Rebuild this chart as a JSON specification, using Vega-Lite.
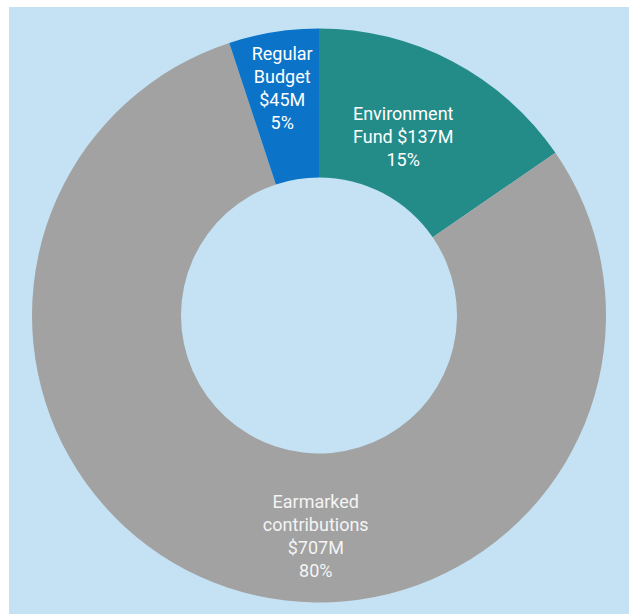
{
  "$schema": "https://vega.github.io/schema/vega-lite/v6.json",
  "width": 620,
  "height": 607,
  "autosize": "none",
  "padding": {"left": 9, "top": 7, "right": 0, "bottom": 0},
  "background": "#ffffff",
  "view": {"fill": "#c4e2f3", "stroke": null},
  "data": {
    "values": [
      {"name": "Environment Fund", "amount": 137, "rank": 1, "label": ["Environment", "Fund $137M", "15%"]},
      {"name": "Earmarked contributions", "amount": 707, "rank": 2, "label": ["Earmarked", "contributions", "$707M", "80%"]},
      {"name": "Regular Budget", "amount": 45, "rank": 3, "label": ["Regular", "Budget", "$45M", "5%"]}
    ]
  },
  "encoding": {
    "theta": {"field": "amount", "type": "quantitative", "stack": true},
    "order": {"field": "rank", "type": "quantitative"}
  },
  "layer": [
    {
      "mark": {"type": "arc", "outerRadius": 287, "innerRadius": 138, "yOffset": 5, "stroke": null},
      "encoding": {
        "color": {
          "field": "name",
          "type": "nominal",
          "scale": {
            "domain": ["Environment Fund", "Earmarked contributions", "Regular Budget"],
            "range": ["#238c89", "#a2a2a2", "#0b74c8"]
          },
          "legend": null
        }
      }
    },
    {
      "mark": {"type": "text", "font": "Roboto", "fontSize": 18, "lineHeight": 23, "color": "#ffffff", "align": "center", "baseline": "middle", "yOffset": 5, "dx": 5},
      "encoding": {
        "radius": {"value": 264},
        "text": {"condition": {"test": "datum.name === 'Regular Budget'", "field": "label"}, "value": ""}
      }
    },
    {
      "mark": {"type": "text", "font": "Roboto", "fontSize": 18, "lineHeight": 23, "color": "#ffffff", "align": "center", "baseline": "middle", "yOffset": 5, "dx": -21},
      "encoding": {
        "radius": {"value": 226},
        "text": {"condition": {"test": "datum.name === 'Environment Fund'", "field": "label"}, "value": ""}
      }
    },
    {
      "mark": {"type": "text", "font": "Roboto", "fontSize": 18, "lineHeight": 23, "color": "#f4f4f4", "align": "center", "baseline": "middle", "yOffset": 5, "dx": 60},
      "encoding": {
        "radius": {"value": 198},
        "text": {"condition": {"test": "datum.name === 'Earmarked contributions'", "field": "label"}, "value": ""}
      }
    }
  ]
}
